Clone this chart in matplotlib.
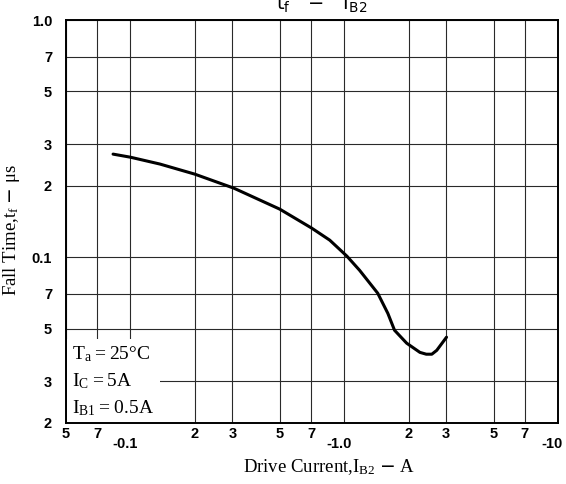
import matplotlib
matplotlib.use("Agg")
import matplotlib.pyplot as plt
from matplotlib.transforms import ScaledTranslation
import numpy as np

# Data
drive_current = [0.083, 0.1, 0.1375, 0.2, 0.305, 0.5, 0.705, 0.856, 1.03, 1.18, 1.435, 1.60, 1.72, 1.96, 2.26, 2.42, 2.57, 2.71, 3.01]
fall_time = [0.272, 0.264, 0.247, 0.224, 0.1954, 0.1594, 0.1326, 0.118, 0.101, 0.0881, 0.0705, 0.058, 0.0492, 0.0434, 0.0397, 0.039, 0.039, 0.0405, 0.046]

x_ticks = [0.05, 0.07, 0.1, 0.2, 0.3, 0.5, 0.7, 1.0, 2, 3, 5, 7, 10]
x_tick_labels = ["5", "7", "-0.1", "2", "3", "5", "7", "-1.0", "2", "3", "5", "7", "-10"]
y_ticks = [1.0, 0.7, 0.5, 0.3, 0.2, 0.1, 0.07, 0.05, 0.03, 0.02]
y_tick_labels = ["1.0", "7", "5", "3", "2", "0.1", "7", "5", "3", "2"]

fig = plt.figure(figsize=(5.66, 4.84), dpi=100)
ax = fig.add_axes([66/566, 1-423/484, (558-66)/566, (423-20)/484])
ax.set_xscale("log")
ax.set_yscale("log")
ax.set_xlim(0.05, 10)
ax.set_ylim(0.02, 1.0)

ax.set_xticks(x_ticks)
ax.set_xticklabels(x_tick_labels)
ax.set_yticks(y_ticks)
ax.set_yticklabels(y_tick_labels)
ax.minorticks_off()
ax.tick_params(length=0, labelsize=10.5)
ax.tick_params(axis="x", pad=3)
ax.tick_params(axis="y", pad=10)
for lab in ax.get_xticklabels() + ax.get_yticklabels():
    lab.set_fontfamily("Liberation Sans")
    lab.set_fontweight("bold")
for lab in ax.get_xticklabels():
    if lab.get_text().startswith("-"):
        lab.set_transform(lab.get_transform() + ScaledTranslation(-4/72, -7/72, fig.dpi_scale_trans))

ax.grid(True, which="major", color="#2a2a2a", linewidth=0.8)
for s in ax.spines.values():
    s.set_linewidth(1.4)
    s.set_color("black")

ax.plot(drive_current, fall_time, color="black", linewidth=2.2, solid_capstyle="round",
        solid_joinstyle="round", zorder=3)

ax.text(0.0535, 0.0209,
        r"$\mathregular{T_a = 25°C}$" + "\n" + r"$\mathregular{I_C = 5A}$" + "\n" + r"$\mathregular{I_{B1} = 0.5A}$",
        family="Liberation Serif", fontsize=14, linespacing=1.5, va="bottom", ha="left",
        bbox=dict(facecolor="white", edgecolor="none", pad=4), zorder=2)

ax.set_xlabel(r"Drive Current,$\mathregular{I_{B2}}$ $-$ A", family="Liberation Serif", fontsize=13.5)
ax.xaxis.set_label_coords(0.535, -0.085)
ax.set_ylabel(r"Fall Time,$\mathregular{t_f}$ $-$ $\mathregular{\mu s}$", family="Liberation Serif", fontsize=13.5)
ax.yaxis.set_label_coords(-0.089, 0.48)

fig.text(322/566, 1-10/484, r"$\mathregular{t_f}$   $-$   $\mathregular{I_{B2}}$",
         family="DejaVu Sans", fontsize=14, ha="center", va="baseline")

fig.savefig("out.png", dpi=100)
